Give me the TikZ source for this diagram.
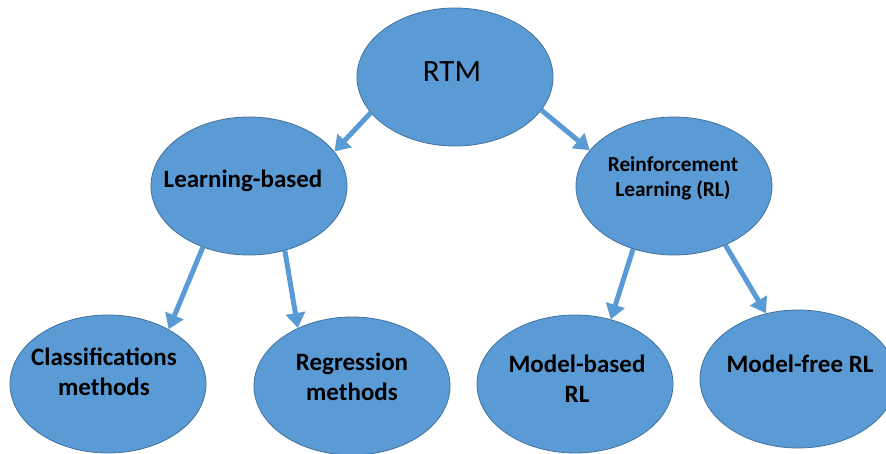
\documentclass[tikz,border=0pt]{standalone}
\usepackage{fontspec}
\setmainfont{Carlito}
\usetikzlibrary{arrows.meta,shapes.geometric}
\definecolor{bubble}{HTML}{5B9BD5}
\definecolor{bubbleedge}{HTML}{41719C}
\tikzset{
  bubblenode/.style={ellipse, draw=bubbleedge, line width=0.8pt, fill=bubble,
    minimum width=196pt, minimum height=138pt, inner sep=0pt},
  lbl/.style={font=\bfseries\fontsize{25}{30}\selectfont, align=center, anchor=base, inner sep=0pt},
  link/.style={draw=bubble, line width=5pt,
    -{Triangle[length=15pt,width=19pt]}, shorten <=0pt},
}
\begin{document}
\begin{tikzpicture}[x=1pt,y=-1pt]
  \useasboundingbox (0,0) rectangle (886,454);
  \clip (0,0) rectangle (886,454);
  % ellipses
  \node[bubblenode] (rtm) at (455,77) {};
  \node[bubblenode] (lb)  at (249,186) {};
  \node[bubblenode] (rl)  at (674,186) {};
  \node[bubblenode] (cls) at (108,384) {};
  \node[bubblenode] (reg) at (352,386) {};
  \node[bubblenode] (mb)  at (575,384) {};
  \node[bubblenode] (mf)  at (798,379) {};
  % texts (base anchor sits on the last line)
  \node[font=\fontsize{31}{36}\selectfont, anchor=base, inner sep=0pt] (trtm) at (452,82) {RTM};
  \node[lbl] (tlb) at (243,188) {Learning-based};
  \node[lbl, font=\bfseries\fontsize{21.3}{25}\selectfont] (trl) at (673,197) {Reinforcement\\Learning (RL)};
  \node[lbl] (tcls) at (104,395) {Classifications\\methods};
  \node[lbl] (treg) at (352,400) {Regression\\methods};
  \node[lbl] (tmb) at (577,402) {Model-based\\RL};
  \node[lbl] (tmf) at (800,372) {Model-free RL};
  % connectors
  \draw[link] (rtm.203) -- (lb.22);
  \draw[link] (rtm.339) -- (rl.157);
  \draw[link] (lb.233) -- (cls.42);
  \draw[link] (lb.299) -- (reg.133);
  \draw[link] (rl.237) -- (mb.61);
  \draw[link] (rl.311) -- (mf.116);
\end{tikzpicture}
\end{document}
